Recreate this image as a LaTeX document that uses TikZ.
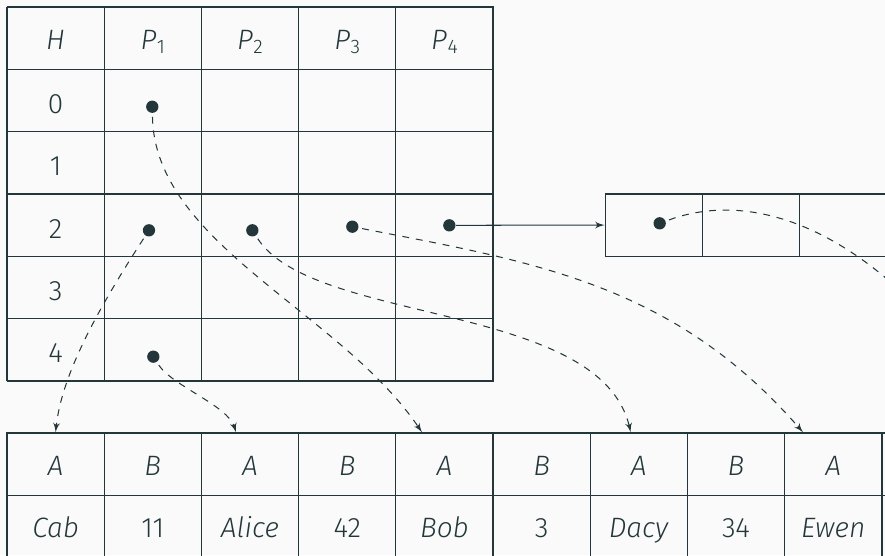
\documentclass[tikz,border=0pt]{standalone}
\usepackage{fontspec}
\setmainfont{Fira Sans Light}[ItalicFont={Fira Sans Light Italic}]
\usepackage{tikz}
\usetikzlibrary{positioning, arrows, shapes}
\definecolor{mDarkTeal}{HTML}{23373B}
\definecolor{mBackground}{HTML}{FAFAFA}
\newcommand{\idx}[2]{\textit{#1}\kern0.2pt\raisebox{-2pt}{\fontsize{8.6}{9}\selectfont #2}}

\begin{document}
\begin{tikzpicture}
                [
                color=mDarkTeal,
                every node/.style={font=\fontsize{12.3}{14.8}\selectfont},
                cell/.style={minimum width=1.5cm,minimum height=0.9615cm,inner sep=0pt,text height=10.6pt,text depth=1pt},
                rowlbl/.style={cell,yshift=-0.9pt},
                box/.style={cell,draw,line width=0.6pt},
                dot/.style={circle,fill,inner sep=0pt,minimum size=0.19cm},
                link/.style={->,> = latex',dashed,line width=0.45pt,shorten <=1.5pt},
                edge/.style={->,> = latex',line width=0.45pt}
                ]
            \path[use as bounding box,fill=mBackground] (-0.108,0.108) rectangle (13.549,-8.457);
            \clip (-0.108,0.108) rectangle (13.549,-8.457);
            % hash table
            \draw[line width=0.6pt,xstep=1.5cm,ystep=0.9615cm] (0,0) grid (7.51,-5.775);
            \node[cell] (h) at (0.75,-0.481) {\textit{H}};
            \node[cell] (p1) at (2.25,-0.481) {\idx{P}{1}};
            \node[cell] (p2) at (3.75,-0.481) {\idx{P}{2}};
            \node[cell] (p3) at (5.25,-0.481) {\idx{P}{3}};
            \node[cell] (p4) at (6.75,-0.481) {\idx{P}{4}};
            \node[rowlbl] (r0) at (0.75,-1.442) {0};
            \node[rowlbl] (r1) at (0.75,-2.404) {1};
            \node[rowlbl] (r2) at (0.75,-3.365) {2};
            \node[rowlbl] (r3) at (0.75,-4.327) {3};
            \node[rowlbl] (r4) at (0.75,-5.288) {4};
            \node[dot] (d0) at (2.242,-1.539) {};
            \node[dot] (d2a) at (2.191,-3.446) {};
            \node[dot] (d2b) at (3.786,-3.446) {};
            \node[dot] (d2c) at (5.329,-3.390) {};
            \node[dot] (d2d) at (6.826,-3.369) {};
            \node[dot] (d4) at (2.258,-5.396) {};
            % overflow page
            \node[box] (c1) at (9.983,-3.365) {};
            \node[box] (c2) at (11.483,-3.365) {};
            \node[box] (c3) at (12.983,-3.365) {};
            \node[box] (c4) at (14.483,-3.365) {};
            \node[dot] (dc) at (10.072,-3.338) {};
            % records
            \node[box] (a1) at (0.75,-7.055) {\textit{A}};
            \node[box] (b1) at (2.25,-7.055) {\textit{B}};
            \node[box] (a2) at (3.75,-7.055) {\textit{A}};
            \node[box] (b2) at (5.25,-7.055) {\textit{B}};
            \node[box] (a3) at (6.75,-7.055) {\textit{A}};
            \node[box] (b3) at (8.25,-7.055) {\textit{B}};
            \node[box] (a4) at (9.75,-7.055) {\textit{A}};
            \node[box] (b4) at (11.25,-7.055) {\textit{B}};
            \node[box] (a5) at (12.75,-7.055) {\textit{A}};
            \node[box] (b5) at (14.25,-7.055) {};
            \node[box] (v1) at (0.75,-8.016) {\textit{Cab}};
            \node[box] (v2) at (2.25,-8.016) {11};
            \node[box] (v3) at (3.75,-8.016) {\textit{Alice}};
            \node[box] (v4) at (5.25,-8.016) {42};
            \node[box] (v5) at (6.75,-8.016) {\textit{Bob}};
            \node[box] (v6) at (8.25,-8.016) {3};
            \node[box] (v7) at (9.75,-8.016) {\textit{Dacy}};
            \node[box] (v8) at (11.25,-8.016) {34};
            \node[box] (v9) at (12.75,-8.016) {\textit{Ewen}};
            \node[box] (v10) at (14.25,-8.016) {};
            \coordinate (next) at (15.48,-6.574);
            % pointers
            \draw[edge] (d2d) -- (c1.west);
            \draw[link] (d2a) to[out=-123,in=84,out looseness=1.02,in looseness=0.69] (a1.north);
            \draw[link] (d4) to[out=-57,in=107,looseness=0.68] ([xshift=-2.16mm]a2.north);
            \draw[link] (d0) to[out=-89,in=124,out looseness=0.8,in looseness=0.89] ([xshift=-3.46mm]a3.north);
            \draw[link] (d2b) to[out=-57,in=103,out looseness=0.64,in looseness=0.81] ([xshift=-1.25mm]a4.north);
            \draw[link] (d2c) to[out=-11,in=131,out looseness=0.93,in looseness=1.03] ([xshift=-4.66mm]a5.north);
            \draw[link] (dc) to[out=20,in=120,out looseness=0.75,in looseness=1.25] (next);
            \end{tikzpicture}
\end{document}
